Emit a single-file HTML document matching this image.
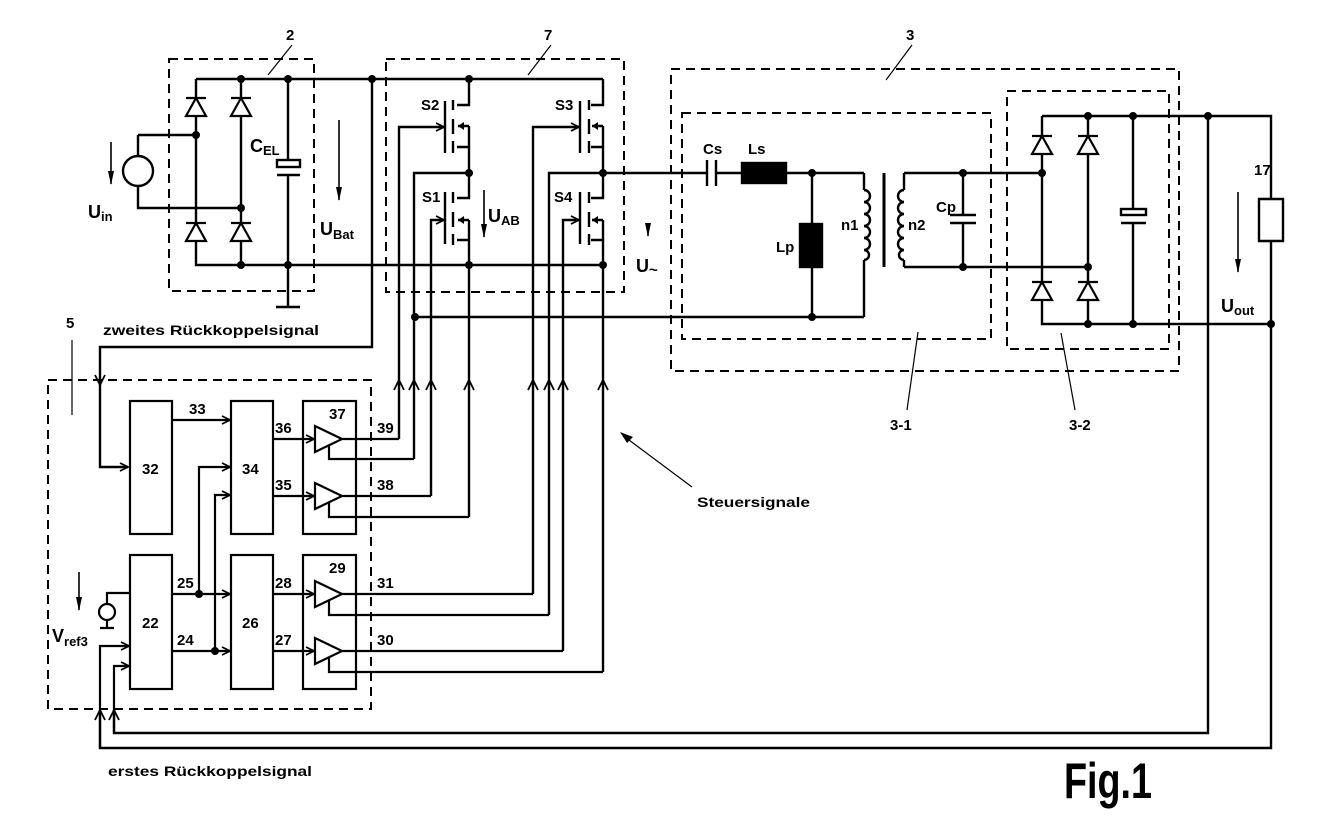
<!DOCTYPE html>
<html><head><meta charset="utf-8"><style>
html,body{margin:0;padding:0;background:#fff}
svg{display:block}
text{font-family:"Liberation Sans",sans-serif;font-weight:bold;fill:#000}
</style></head><body>
<svg width="1328" height="826" viewBox="0 0 1328 826" xmlns="http://www.w3.org/2000/svg">
<defs>
<marker id="ar" markerWidth="10" markerHeight="10" refX="9" refY="5" orient="auto" markerUnits="userSpaceOnUse">
<path d="M1,1 L9,5 L1,9" fill="none" stroke="#000" stroke-width="1.8"/>
</marker>
<marker id="af" markerWidth="10" markerHeight="14" refX="5" refY="13" orient="0" markerUnits="userSpaceOnUse">
<path d="M2,0 L8,0 L5,14 Z" fill="#000"/>
</marker>
</defs>
<g fill="none" stroke="#000" stroke-width="2.4">
<g stroke-dasharray="9,6" stroke-width="2">
<rect x="169" y="59" width="145" height="232"/>
<rect x="386" y="59" width="238" height="233"/>
<rect x="671" y="69" width="508" height="302"/>
<rect x="682" y="113" width="309" height="226"/>
<rect x="1007" y="91" width="162" height="258"/>
<rect x="48" y="380" width="323" height="329"/>
</g>
<g stroke-width="1.2">
<path d="M292,45 L268,75"/><path d="M551,45 L528,75"/><path d="M912,45 L886,80"/>
<path d="M918,332 L907,410"/><path d="M1061,333 L1075,410"/>
<path d="M72,340 L72,415"/>
<path d="M692,487 L625,437"/>
</g>
<path d="M620,432 L633,437 L627,443 Z" fill="#000" stroke="none"/>
<path d="M196,79 H603"/>
<path d="M196,79 V265 H603"/>
<path d="M241,79 V265"/>
<path d="M288,79 V160 M288,175 V307 M276,307 H300"/>
<rect x="277" y="160" width="23" height="7"/>
<path d="M277,175 H300"/>
<path d="M138,135 H196 M138,135 V156 M138,186 V208 H241"/>
<circle cx="138" cy="171" r="15"/>
<path d="M372,79 V347 H100 V467 H128" marker-end="url(#ar)"/>
<path d="M469,79 V105 H457 M469,126 V147 H457 M469,147 V198 H457 M469,220 V240 H457 M469,240 V517" />
<path d="M603,79 V105 H591 M603,126 V147 H591 M603,147 V198 H591 M603,220 V240 H591 M603,240 V672"/>
<path d="M469,126 H458 M603,126 H592 M469,220 H458 M603,220 H592"/>
<path d="M445,101 V153 M445,192 V244 M580,101 V153 M580,192 V244"/>
<path d="M453,100 V110 M453,119 V134 M453,141 V153 M453,192 V203 M453,212 V227 M453,234 V245"/>
<path d="M589,100 V110 M589,119 V134 M589,141 V153 M589,192 V203 M589,212 V227 M589,234 V245"/>
<path d="M399,439 V127 H444" marker-end="url(#ar)"/>
<path d="M431,496 V220 H444" marker-end="url(#ar)"/>
<path d="M533,594 V127 H579" marker-end="url(#ar)"/>
<path d="M563,651 V220 H579" marker-end="url(#ar)"/>
<path d="M469,173 H414 V459 M603,173 H549 V615"/>
<path d="M415,317 H864"/>
<path d="M603,173 H707 M716,173 H742 M786,173 H864"/>
<g stroke-width="1.8">
<path d="M394,390 L399,380 L404,390 M409,390 L414,380 L419,390 M426,390 L431,380 L436,390 M464,390 L469,380 L474,390 M528,390 L533,380 L538,390 M544,390 L549,380 L554,390 M558,390 L563,380 L568,390 M598,390 L603,380 L608,390"/>
<path d="M95,375 L100,385 L105,375"/>
</g>
</g>
<g stroke="#000" stroke-width="2.4" fill="none">
<path d="M707,160 V186 M716,160 V186"/>
<rect x="742" y="163" width="44" height="20" fill="#000"/>
<path d="M812,173 V224 M812,267 V317"/>
<rect x="800" y="224" width="22" height="43" fill="#000"/>
<path d="M864,173 V190 M864,260 V317"/>
<path d="M864,190 a6,6 0 0,1 0,12 a6,6 0 0,1 0,12 a6,6 0 0,1 0,12 a6,6 0 0,1 0,12 a6,6 0 0,1 0,12 a4,4 0 0,1 0,10"/>
<path d="M884,173 V267" stroke-width="3"/>
<path d="M904,173 V190 M904,260 V267"/>
<path d="M904,190 a6,6 0 0,0 0,12 a6,6 0 0,0 0,12 a6,6 0 0,0 0,12 a6,6 0 0,0 0,12 a6,6 0 0,0 0,12 a4,4 0 0,0 0,10"/>
<path d="M904,173 H1042 M904,267 H1088"/>
<path d="M963,173 V215 M963,223 V267 M950,215 H976 M950,223 H976"/>
<path d="M1042,116 H1271 V748 H100 V710" />
<path d="M1042,116 V324 H1271"/>
<path d="M1088,116 V324"/>
<path d="M1133,116 V209 M1133,223 V324 M1121,223 H1146"/>
<rect x="1121" y="209" width="25" height="6"/>
<path d="M1208,116 V733 H114 V710"/>
<path d="M1259,199 H1283 V241 H1259 Z" fill="#fff"/>
<path d="M95,720 L100,710 L105,720 M109,720 L114,710 L119,720" stroke-width="1.8"/>
</g>
<g fill="#fff" stroke="#000" stroke-width="2.2">
<path d="M186,98 H206 M196,98 L186,116 H206 Z"/>
<path d="M231,98 H251 M241,98 L231,116 H251 Z"/>
<path d="M186,223 H206 M196,223 L186,241 H206 Z"/>
<path d="M231,223 H251 M241,223 L231,241 H251 Z"/>
<path d="M1032,136 H1052 M1042,136 L1032,154 H1052 Z"/>
<path d="M1078,136 H1098 M1088,136 L1078,154 H1098 Z"/>
<path d="M1032,282 H1052 M1042,282 L1032,300 H1052 Z"/>
<path d="M1078,282 H1098 M1088,282 L1078,300 H1098 Z"/>
</g>
<g fill="#000">
<path d="M458,126 L464,122 V130 Z"/><path d="M458,220 L464,216 V224 Z"/>
<path d="M592,126 L598,122 V130 Z"/><path d="M592,220 L598,216 V224 Z"/>
</g>
<g fill="#000">
<circle cx="241" cy="79" r="4"/><circle cx="288" cy="79" r="4"/><circle cx="372" cy="79" r="4"/><circle cx="469" cy="79" r="4"/>
<circle cx="196" cy="135" r="4"/><circle cx="241" cy="208" r="4"/>
<circle cx="241" cy="265" r="4"/><circle cx="288" cy="265" r="4"/><circle cx="469" cy="265" r="4"/><circle cx="603" cy="265" r="4"/>
<circle cx="469" cy="173" r="4"/><circle cx="603" cy="173" r="4"/><circle cx="415" cy="317" r="4"/>
<circle cx="812" cy="173" r="4"/><circle cx="812" cy="317" r="4"/>
<circle cx="963" cy="173" r="4"/><circle cx="963" cy="267" r="4"/>
<circle cx="1042" cy="173" r="4"/><circle cx="1088" cy="267" r="4"/>
<circle cx="1088" cy="116" r="4"/><circle cx="1133" cy="116" r="4"/><circle cx="1208" cy="116" r="4"/>
<circle cx="1088" cy="324" r="4"/><circle cx="1133" cy="324" r="4"/><circle cx="1271" cy="324" r="4"/>
<circle cx="199" cy="594" r="4"/><circle cx="215" cy="651" r="4"/>
</g>
<g stroke="#000" stroke-width="1.6">
<line x1="111" y1="142" x2="111" y2="184" marker-end="url(#af)"/>
<line x1="339" y1="120" x2="339" y2="200" marker-end="url(#af)"/>
<line x1="484" y1="190" x2="484" y2="237" marker-end="url(#af)"/>
<line x1="648" y1="232" x2="648" y2="236" marker-end="url(#af)"/>
<line x1="1238" y1="192" x2="1238" y2="272" marker-end="url(#af)"/>
<line x1="79" y1="572" x2="79" y2="610" marker-end="url(#af)"/>
</g>
<g fill="none" stroke="#000" stroke-width="2.2">
<rect x="130" y="401" width="42" height="133"/>
<rect x="231" y="401" width="42" height="133"/>
<rect x="303" y="401" width="53" height="133"/>
<rect x="130" y="555" width="42" height="134"/>
<rect x="231" y="555" width="42" height="134"/>
<rect x="303" y="555" width="53" height="134"/>
<path d="M172,420 H230" marker-end="url(#ar)"/>
<path d="M172,594 H230" marker-end="url(#ar)"/>
<path d="M199,594 V467 H230" marker-end="url(#ar)"/>
<path d="M172,651 H230" marker-end="url(#ar)"/>
<path d="M215,651 V495 H230" marker-end="url(#ar)"/>
<path d="M273,439 H314" marker-end="url(#ar)"/>
<path d="M273,496 H314" marker-end="url(#ar)"/>
<path d="M273,594 H314" marker-end="url(#ar)"/>
<path d="M273,651 H314" marker-end="url(#ar)"/>
<path d="M315,426 V452 L342,439 Z M315,483 V509 L342,496 Z M315,581 V607 L342,594 Z M315,638 V664 L342,651 Z" fill="#fff"/>
<path d="M342,439 H399 M329,446 V459 H414 M342,496 H431 M329,503 V517 H469"/>
<path d="M342,594 H533 M329,601 V615 H549 M342,651 H563 M329,658 V672 H603"/>
<path d="M130,593 H107 V604 M107,620 V628 M100,628 H114"/>
<circle cx="107" cy="612" r="8"/>
<path d="M100,748 V646 H129" marker-end="url(#ar)"/>
<path d="M114,733 V666 H129" marker-end="url(#ar)"/>
</g>
<g font-size="15">
<text x="286" y="40">2</text>
<text x="544" y="40">7</text>
<text x="906" y="40">3</text>
<text x="1254" y="175">17</text>
<text x="88" y="218" font-size="18" font-weight="normal">U<tspan font-size="13" dy="3">in</tspan></text>
<text x="250" y="152" font-size="18" font-weight="normal">C<tspan font-size="13" dy="3">EL</tspan></text>
<text x="320" y="235" font-size="18" font-weight="normal">U<tspan font-size="13" dy="4">Bat</tspan></text>
<text x="488" y="222" font-size="18" font-weight="normal">U<tspan font-size="13" dy="3">AB</tspan></text>
<text x="636" y="272" font-size="18" font-weight="normal">U<tspan font-size="15" dy="3">~</tspan></text>
<text x="1221" y="312" font-size="18" font-weight="normal">U<tspan font-size="13" dy="3">out</tspan></text>
<text x="52" y="642" font-size="18" font-weight="normal">V<tspan font-size="13" dy="4">ref3</tspan></text>
<text x="421" y="110">S2</text><text x="422" y="202">S1</text>
<text x="555" y="110">S3</text><text x="554" y="202">S4</text>
<text x="703" y="154">Cs</text><text x="748" y="154">Ls</text>
<text x="776" y="252">Lp</text><text x="841" y="230">n1</text><text x="908" y="230">n2</text>
<text x="936" y="212">Cp</text>
<text x="890" y="430">3-1</text><text x="1069" y="430">3-2</text>
<text x="66" y="328">5</text>
<text x="103" y="335" font-size="14" textLength="216" lengthAdjust="spacingAndGlyphs">zweites Rückkoppelsignal</text>
<text x="108" y="776" font-size="14" textLength="204" lengthAdjust="spacingAndGlyphs">erstes Rückkoppelsignal</text>
<text x="697" y="507" font-size="14" textLength="113" lengthAdjust="spacingAndGlyphs">Steuersignale</text>
<text x="142" y="474">32</text><text x="242" y="474">34</text>
<text x="142" y="628">22</text><text x="242" y="628">26</text>
<text x="329" y="419">37</text><text x="329" y="573">29</text>
<text x="189" y="414">33</text>
<text x="275" y="433">36</text><text x="275" y="490">35</text>
<text x="275" y="588">28</text><text x="275" y="645">27</text>
<text x="177" y="588">25</text><text x="177" y="645">24</text>
<text x="377" y="433">39</text><text x="377" y="490">38</text>
<text x="377" y="588">31</text><text x="377" y="645">30</text>
<text x="1064" y="798" font-size="50" font-weight="normal" textLength="88" lengthAdjust="spacingAndGlyphs">Fig.1</text>
</g>
</svg>
</body></html>
